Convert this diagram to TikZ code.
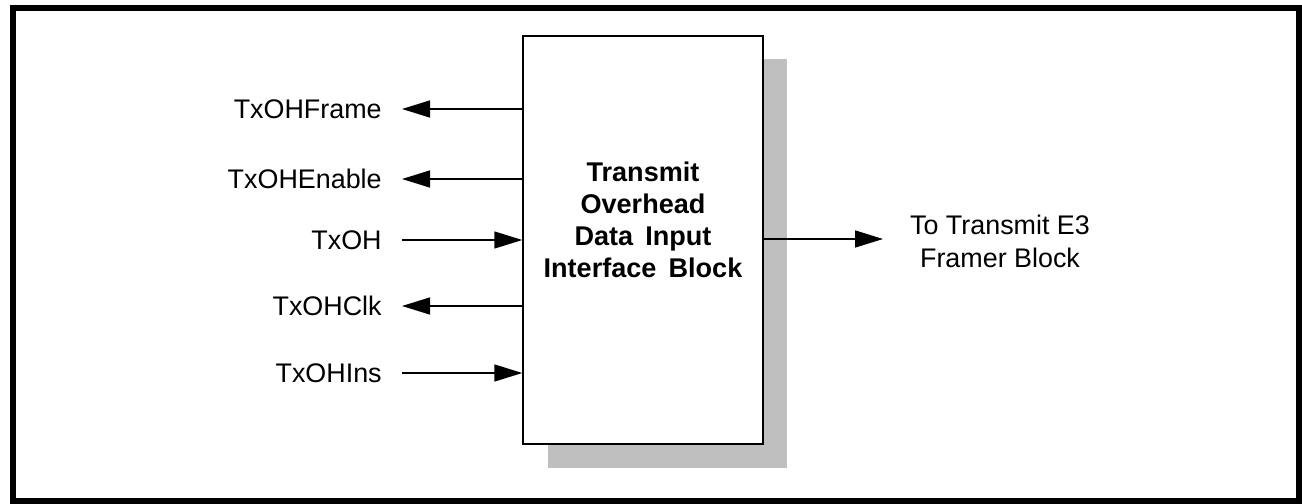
\documentclass[tikz,border=0pt]{standalone}
\usepackage{fontspec}
\setmainfont{Liberation Sans}
\usepackage{tikz}
\usetikzlibrary{arrows.meta}
\newcommand{\widespace}{\spaceskip=0.45em plus 0.1em\relax}

\begin{document}
\begin{tikzpicture}[
	sig/.style={line width=0.8pt,-{Triangle[length=0.56cm,width=0.34cm]}},
	pin/.style={anchor=east,inner sep=0pt,font=\fontsize{15.3}{18}\selectfont},
	blockbox/.style={draw,line width=0.8pt,fill=white,minimum width=4.8cm,minimum height=8.16cm},
	blocktext/.style={align=center,inner sep=0pt,font=\fontsize{15.4}{18.3}\selectfont\bfseries\widespace}
	]
	\useasboundingbox (0,0) rectangle (26.04,-10.08);
	\draw[line width=3.2pt] (0.26,-0.16) rectangle (25.98,-10.02);
	\fill[black!25!white] (10.95,-1.19) rectangle (15.74,-9.36);
	\node[blockbox] (blk) at (12.86,-4.8) {};
	\node[blocktext] (blktxt) at ([yshift=0.4cm]blk.center) {Transmit\\Overhead\\Data Input\\Interface Block};
	\node[pin] (frame) at (7.64,-2.18) {TxOHFrame};
	\node[pin] (enable) at (7.64,-3.58) {TxOHEnable};
	\node[pin] (txoh) at (7.64,-4.80) {TxOH};
	\node[pin] (clk) at (7.64,-6.12) {TxOHClk};
	\node[pin] (ins) at (7.64,-7.46) {TxOHIns};
	\draw[sig] (frame.east -| blk.west) -- ([xshift=0.4cm]frame.east);
	\draw[sig] (enable.east -| blk.west) -- ([xshift=0.4cm]enable.east);
	\draw[sig] ([xshift=0.4cm]txoh.east) -- (txoh.east -| blk.west);
	\draw[sig] (clk.east -| blk.west) -- ([xshift=0.4cm]clk.east);
	\draw[sig] ([xshift=0.4cm]ins.east) -- (ins.east -| blk.west);
	\node[align=center,inner sep=0pt,font=\fontsize{15.3}{18.8}\selectfont] (out) at (20.0,-4.82) {To Transmit E3\\Framer Block};
	\coordinate (oend) at (17.66,-4.78);
	\draw[sig] (blk.east |- oend) -- (oend);
\end{tikzpicture}
\end{document}
